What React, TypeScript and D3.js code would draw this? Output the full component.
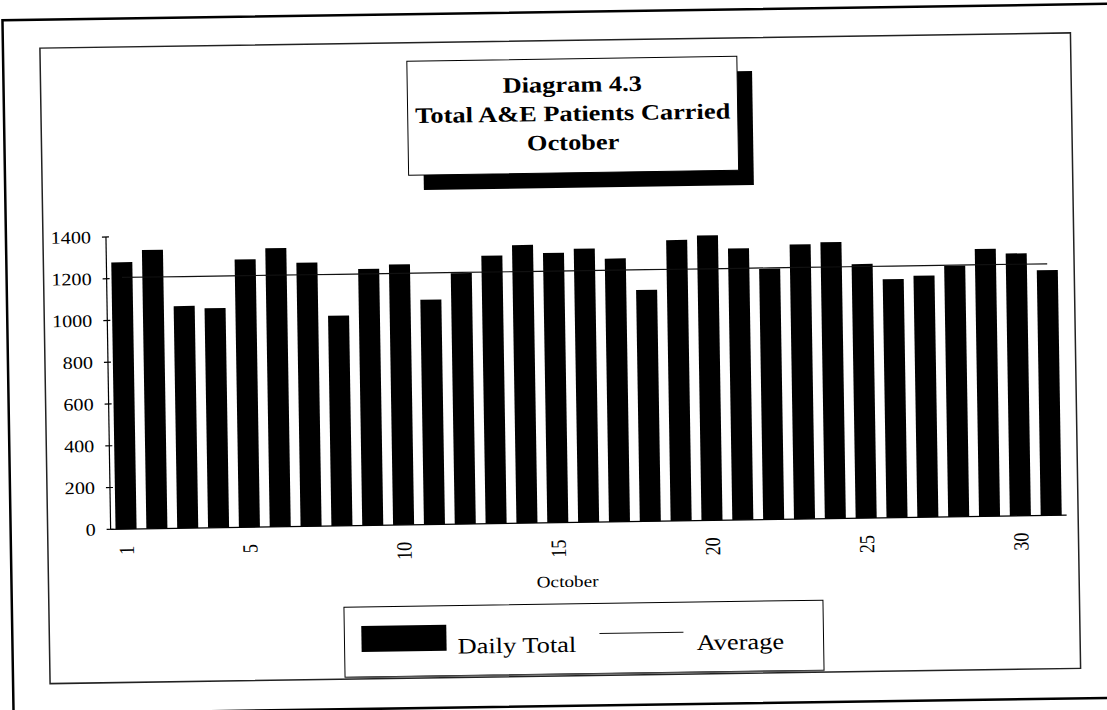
import React from 'react';
import * as d3 from 'd3';

// daily totals for October
const days = d3.range(1, 32);
const dailyTotals = [
  1278, 1335, 1064, 1052, 1283, 1335, 1263, 1007, 1229, 1248, 1077,
  1202, 1283, 1332, 1292, 1310, 1261, 1108, 1345, 1365, 1301, 1201,
  1315, 1324, 1217, 1142, 1157, 1202, 1281, 1257, 1175,
];
const averageValue = 1205;
const yTicks = [0, 200, 400, 600, 800, 1000, 1200, 1400];
const xTickDays = [1, 5, 10, 15, 20, 25, 30];
const titleLines = ['Diagram 4.3', 'Total A&E Patients Carried', 'October'];
const legendItems = ['Daily Total', 'Average'];
const axisTitle = 'October';

const W = 1107;
const H = 710;
const font = '"Liberation Serif", "Times New Roman", serif';
const SX = 1.2; // the scan is stretched sideways

// slight skew of the scanned page
const cx = 560;
const cy = 358;
const a = 0.016;
const b = 0.0148;

const plot = { left: 108, right: 1064, top: 230.3, bottom: 522.6 };

const App = () => {
  const x = d3
    .scaleBand<number>()
    .domain(days)
    .range([plot.left, plot.right])
    .paddingInner(0.318)
    .paddingOuter(0.159);
  const y = d3.scaleLinear().domain([0, 1400]).range([plot.bottom, plot.top]);

  const avgLine = d3
    .line<number>()
    .x((d) => (x(d) as number) + x.bandwidth() / 2)
    .y(() => y(averageValue));

  const box = { x: 411.6, y: 59, w: 330, h: 114 };
  const legend = { x: 340, y: 604, w: 479, h: 70 };

  return (
    <svg
      width={W}
      height={H}
      style={{ position: 'fixed', left: 0, top: 0, background: '#fff' }}
    >
      <rect width={W} height={H} fill="#fff" />
      <g transform={`matrix(1, ${-b}, ${a}, 1, ${-a * cy}, ${b * cx})`}>
        {/* outer and inner frames */}
        <rect x={8} y={12} width={1110} height={694} fill="none" stroke="#000" strokeWidth={2.5} />
        <rect x={45} y={40.5} width={1030.5} height={635.5} fill="none" stroke="#222" strokeWidth={1.5} />

        {/* bars */}
        {days.map((d, i) => (
          <rect
            key={d}
            x={x(d)}
            y={y(dailyTotals[i])}
            width={x.bandwidth()}
            height={y(0) - y(dailyTotals[i])}
            fill="#000"
          />
        ))}

        {/* average */}
        <path d={avgLine(days) as string} fill="none" stroke="#111" strokeWidth={1.2} />

        {/* y axis */}
        <line x1={plot.left} x2={plot.left} y1={y(1400)} y2={y(0)} stroke="#000" strokeWidth={1.2} />
        {yTicks.map((t) => (
          <g key={t}>
            <line x1={plot.left - 4} x2={plot.left + 3} y1={y(t)} y2={y(t)} stroke="#000" strokeWidth={1.2} />
            <text
              transform={`translate(93,${y(t)}) scale(1.15,1)`}
              textAnchor="end"
              dominantBaseline="central"
              fontFamily={font}
              fontSize={17.5}
            >
              {t}
            </text>
          </g>
        ))}

        {/* x axis */}
        <line x1={plot.left} x2={plot.right} y1={y(0)} y2={y(0)} stroke="#000" strokeWidth={1.2} />
        {xTickDays.map((d) => (
          <text
            key={d}
            transform={`translate(${(x(d) as number) + x.bandwidth() / 2},539.5) scale(${SX},1) rotate(-90)`}
            textAnchor="end"
            dominantBaseline="central"
            fontFamily={font}
            fontSize={18}
          >
            {d}
          </text>
        ))}
        <text
          transform={`translate(564,587) scale(${SX},1)`}
          textAnchor="middle"
          fontFamily={font}
          fontSize={16}
        >
          {axisTitle}
        </text>

        {/* title box with shadow */}
        <rect x={box.x + 15} y={box.y + 15} width={box.w} height={box.h} fill="#000" />
        <rect x={box.x} y={box.y} width={box.w} height={box.h} fill="#fff" stroke="#000" strokeWidth={1} />
        {titleLines.map((line, i) => (
          <text
            key={line}
            transform={`translate(${box.x + box.w / 2},${92 + i * 29}) scale(${SX},1)`}
            textAnchor="middle"
            fontFamily={font}
            fontWeight="bold"
            fontSize={22}
          >
            {line}
          </text>
        ))}

        {/* legend */}
        <rect x={legend.x} y={legend.y} width={legend.w} height={legend.h} fill="#fff" stroke="#000" strokeWidth={1} />
        <line x1={legend.x} x2={legend.x + legend.w} y1={legend.y + legend.h + 0.5} y2={legend.y + legend.h + 0.5} stroke="#555" strokeWidth={1.5} />
        <rect x={357} y={623} width={85} height={26} fill="#000" />
        <text transform={`translate(453,652) scale(${SX},1)`} fontFamily={font} fontSize={22}>
          {legendItems[0]}
        </text>
        <line x1={595} x2={679} y1={634} y2={634} stroke="#111" strokeWidth={1.2} />
        <text transform={`translate(692,652) scale(${SX},1)`} fontFamily={font} fontSize={22}>
          {legendItems[1]}
        </text>
      </g>
    </svg>
  );
};

export default App;
